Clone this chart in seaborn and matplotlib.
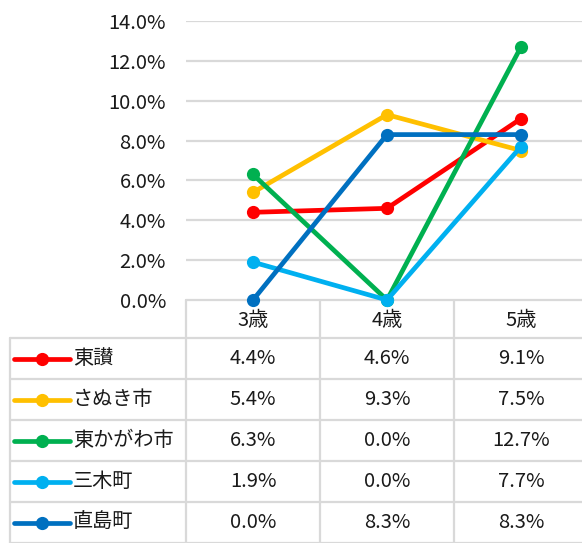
import matplotlib
matplotlib.use("Agg")
import matplotlib.pyplot as plt
import seaborn as sns
import pandas as pd
from matplotlib.ticker import PercentFormatter, MultipleLocator

# ---- data ----
categories = ["3歳", "4歳", "5歳"]
series_names = ["東讃", "さぬき市", "東かがわ市", "三木町", "直島町"]
touson = [4.4, 4.6, 9.1]
sanuki = [5.4, 9.3, 7.5]
higashikagawa = [6.3, 0.0, 12.7]
miki = [1.9, 0.0, 7.7]
naoshima = [0.0, 8.3, 8.3]
series_values = [touson, sanuki, higashikagawa, miki, naoshima]
colors = ["#FF0000", "#FFC000", "#00B050", "#00B0F0", "#0070C0"]

sns.set_theme(style="white")
plt.rcParams['font.family'] = ['Noto Sans CJK JP', 'DejaVu Sans']

W, H = 582, 543
FS = 14.5
TXT = "#1a1a1a"
GRID = "#D9D9D9"
fig = plt.figure(figsize=(W / 100, H / 100), dpi=100)

# plot area (pixel layout)
pl, pr, pt, pb = 186, 588, 21, 300
ax = fig.add_axes([pl / W, (H - pb) / H, (pr - pl) / W, (pb - pt) / H])

rows = []
for name, vals in zip(series_names, series_values):
    for i, (c, v) in enumerate(zip(categories, vals)):
        rows.append({"series": name, "x": i, "value": v / 100})
df = pd.DataFrame(rows)

sns.lineplot(data=df, x="x", y="value", hue="series", hue_order=series_names,
             palette=colors, marker="o", markersize=9.5, markeredgewidth=0,
             linewidth=3.4, sort=False, legend=False, ax=ax, clip_on=False)

ax.set_xlim(-0.5, len(categories) - 0.5)
ax.set_ylim(0, 0.14)
ax.yaxis.set_major_locator(MultipleLocator(0.02))
ax.yaxis.set_major_formatter(PercentFormatter(1.0, decimals=1))
ax.set_xticks([])
ax.set_xlabel("")
ax.set_ylabel("")
ax.grid(axis="y", color=GRID, linewidth=1.6)
ax.set_axisbelow(True)
for s in ax.spines.values():
    s.set_visible(False)
ax.tick_params(axis="y", length=0, pad=14.4, labelsize=FS, colors=TXT)

# ---- data table ----
tab = fig.add_axes([0, 0, 1, 1], zorder=-1)
tab.set_xlim(0, W)
tab.set_ylim(H, 0)
tab.axis("off")

col_w = (pr - pl) / len(categories)
col_edges = [pl + col_w * i for i in range(len(categories) + 1)]
col_centers = [pl + col_w * (i + 0.5) for i in range(len(categories))]
leg_left = 10
header_bottom = 338
row_h = 41
row_edges = [header_bottom + row_h * i for i in range(len(series_names) + 1)]

lw = 1.6
tab.plot([pl, W], [pb, pb], color=GRID, lw=lw)
for y in row_edges:
    tab.plot([leg_left, W], [y, y], color=GRID, lw=lw)
tab.plot([leg_left, leg_left], [header_bottom, H], color=GRID, lw=lw)
for x in col_edges[:-1]:
    tab.plot([x, x], [pb, H], color=GRID, lw=lw)

for c, xc in zip(categories, col_centers):
    tab.text(xc, (pb + header_bottom) / 2 + 1, c, ha="center", va="center",
             fontsize=FS, color=TXT)

for r, (name, vals, col) in enumerate(zip(series_names, series_values, colors)):
    yc = (row_edges[r] + row_edges[r + 1]) / 2
    tab.plot([14, 70], [yc, yc], color=col, lw=3.4, solid_capstyle="round")
    tab.plot([42], [yc], marker="o", color=col, markersize=9.5, markeredgewidth=0)
    tab.text(73, yc, name, ha="left", va="center", fontsize=FS, color=TXT)
    for v, xc in zip(vals, col_centers):
        tab.text(xc, yc, f"{v:.1f}%", ha="center", va="center",
                 fontsize=FS, color=TXT)

fig.savefig("out.png", dpi=100)
